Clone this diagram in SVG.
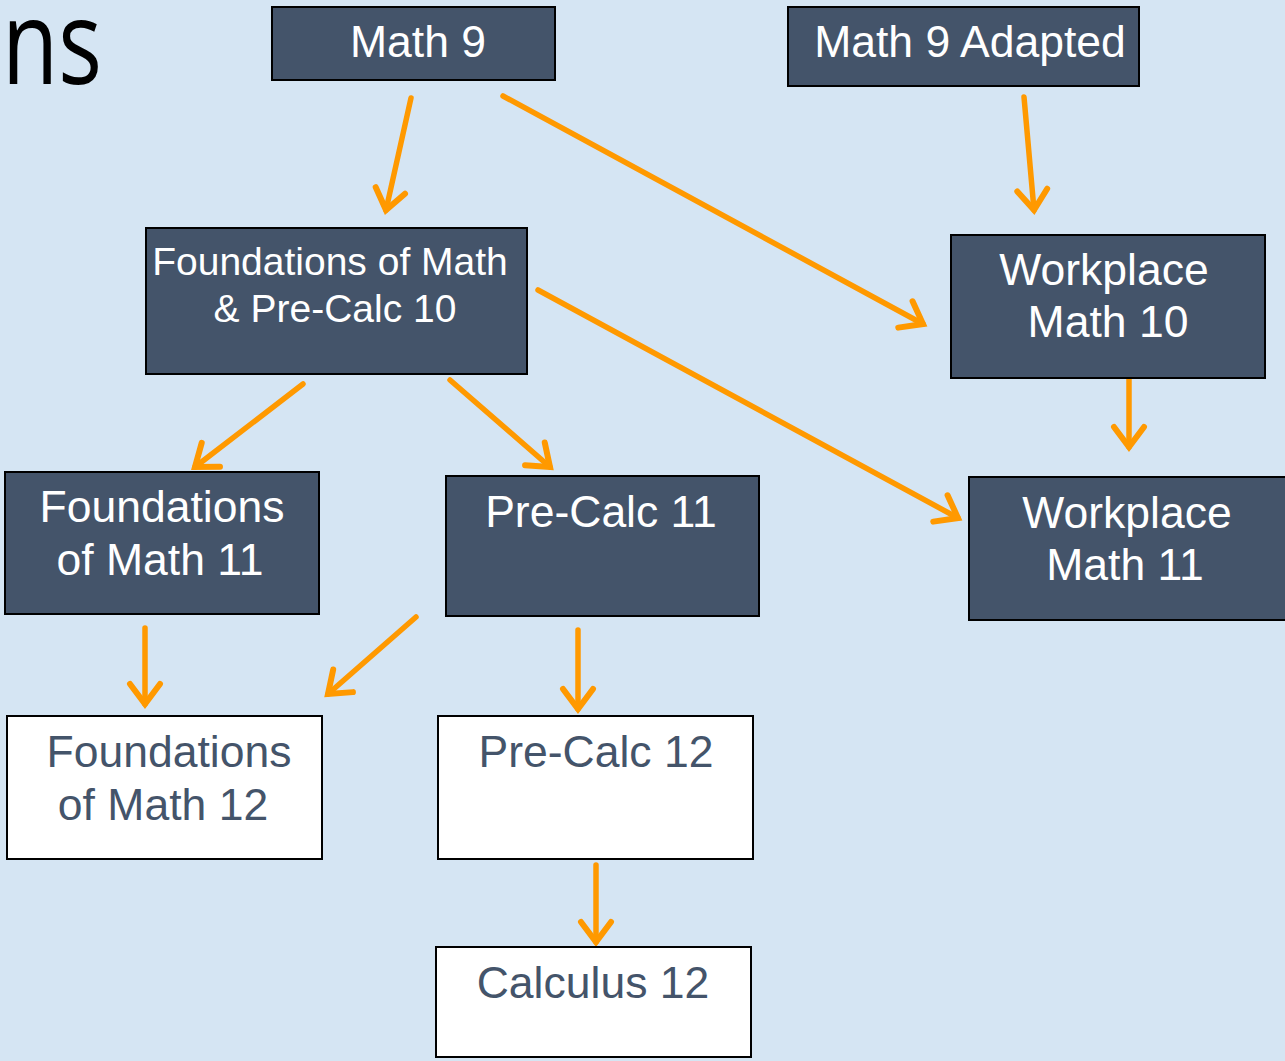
<svg xmlns="http://www.w3.org/2000/svg" width="1285" height="1061" viewBox="0 0 1285 1061">
  <defs>
    <style>
      .dark { fill: #44546a; stroke: #000; stroke-width: 2; }
      .light { fill: #ffffff; stroke: #000; stroke-width: 2; }
      .t { font-family: "Liberation Sans", Arial, sans-serif; font-size: 44.5px; text-anchor: middle; }
      .s { font-size: 39px; }
      .tw { fill: #ffffff; }
      .td { fill: #44546a; }
      .conn { stroke: #ff9900; stroke-width: 5.5; fill: none; stroke-linecap: round; marker-end: url(#chev); }
    </style>
    <marker id="chev" markerUnits="userSpaceOnUse" viewBox="-26 -20 30 40" refX="0" refY="0" markerWidth="30" markerHeight="40" orient="auto" overflow="visible">
      <path d="M -20,-15 L 0,0 L -20,15" fill="none" stroke="#ff9900" stroke-width="6" stroke-linecap="round" stroke-linejoin="miter"/>
    </marker>
  </defs>
  <rect x="0" y="0" width="1285" height="1061" fill="#d5e5f3"/>
  <text x="2" y="84" font-family="'Open Sans', 'Liberation Sans', sans-serif" font-size="118" textLength="100" lengthAdjust="spacingAndGlyphs" fill="#000">ns</text>

  <g id="connectors">
    <line class="conn" x1="411" y1="98" x2="386" y2="210"/>
    <line class="conn" x1="503" y1="96" x2="923" y2="324"/>
    <line class="conn" x1="1024" y1="97" x2="1034" y2="210"/>
    <line class="conn" x1="538" y1="290" x2="958" y2="518"/>
    <line class="conn" x1="303" y1="384" x2="195" y2="467"/>
    <line class="conn" x1="450" y1="380" x2="550" y2="467"/>
    <line class="conn" x1="1129" y1="370" x2="1129" y2="447"/>
    <line class="conn" x1="145" y1="628" x2="145" y2="704"/>
    <line class="conn" x1="416" y1="617" x2="328" y2="694"/>
    <line class="conn" x1="578" y1="630" x2="578" y2="709"/>
    <line class="conn" x1="596" y1="865" x2="596" y2="942"/>
  </g>

  <g id="math9">
    <rect class="dark" x="272" y="7" width="283" height="73"/>
    <text class="t tw" x="418" y="57">Math 9</text>
  </g>
  <g id="math9adapted">
    <rect class="dark" x="788" y="7" width="351" height="79"/>
    <text class="t tw" x="970" y="57">Math 9 Adapted</text>
  </g>
  <g id="fpc10">
    <rect class="dark" x="146" y="228" width="381" height="146"/>
    <text class="t s tw" x="330" y="275">Foundations of Math</text>
    <text class="t s tw" x="335" y="322">&amp; Pre-Calc 10</text>
  </g>
  <g id="workplace10">
    <rect class="dark" x="951" y="235" width="314" height="143"/>
    <text class="t tw" x="1104" y="285">Workplace</text>
    <text class="t tw" x="1108" y="337">Math 10</text>
  </g>
  <g id="foundations11">
    <rect class="dark" x="5" y="472" width="314" height="142"/>
    <text class="t tw" x="162" y="522">Foundations</text>
    <text class="t tw" x="160" y="575">of Math 11</text>
  </g>
  <g id="precalc11">
    <rect class="dark" x="446" y="476" width="313" height="140"/>
    <text class="t tw" x="601" y="527">Pre-Calc 11</text>
  </g>
  <g id="workplace11">
    <rect class="dark" x="969" y="477" width="318" height="143"/>
    <text class="t tw" x="1127" y="528">Workplace</text>
    <text class="t tw" x="1125" y="580">Math 11</text>
  </g>
  <g id="foundations12">
    <rect class="light" x="7" y="716" width="315" height="143"/>
    <text class="t td" x="169" y="767">Foundations</text>
    <text class="t td" x="163" y="820">of Math 12</text>
  </g>
  <g id="precalc12">
    <rect class="light" x="438" y="716" width="315" height="143"/>
    <text class="t td" x="596" y="767">Pre-Calc 12</text>
  </g>
  <g id="calculus12">
    <rect class="light" x="436" y="947" width="315" height="110"/>
    <text class="t td" x="593" y="998">Calculus 12</text>
  </g>
</svg>
